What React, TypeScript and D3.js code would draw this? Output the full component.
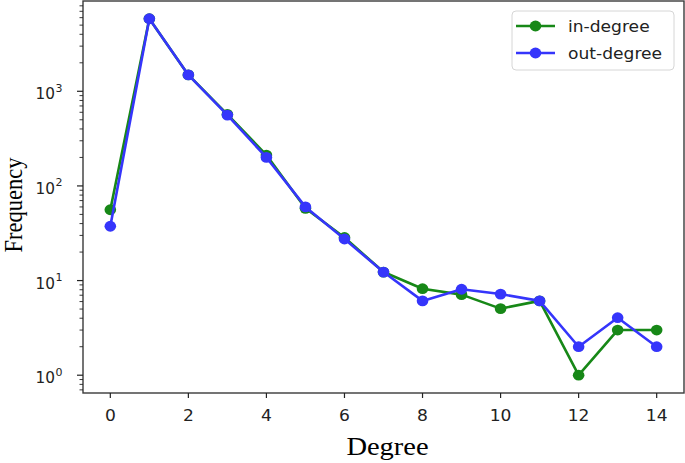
import React from "react";
import * as d3 from "d3";

const degrees = [0, 1, 2, 3, 4, 5, 6, 7, 8, 9, 10, 11, 12, 13, 14];
const inDegree = [56, 5840, 1490, 570, 212, 58, 28.5, 12.3, 8.2, 7.1, 5.05, 6.1, 1, 3, 3];
const outDegree = [37.5, 5840, 1490, 560, 200, 60, 27.5, 12.3, 6.1, 8.1, 7.2, 6.1, 2, 4.05, 2];
const xTicks = [0, 2, 4, 6, 8, 10, 12, 14];
const yDecades = [0, 1, 2, 3];
const seriesNames = ["in-degree", "out-degree"];
const seriesColors = ["#178817", "#3535fb"];

const W = 685;
const H = 463;
const L = 83, R = 684, T = 1, B = 393;
const SX = 1.14; // horizontal stretch of the original image

export default function App() {
  const x = d3.scaleLinear().domain([-0.7, 14.7]).range([L, R]);
  const y = d3.scaleLog().domain([Math.pow(10, -0.188), Math.pow(10, 3.954)]).range([B, T]);
  const line = d3
    .line<number>()
    .x((_, i) => x(degrees[i]))
    .y((d) => y(d));

  const minor: number[] = [];
  for (let k = -1; k <= 3; k++) {
    for (let m = 2; m <= 9; m++) {
      const v = m * Math.pow(10, k);
      const yy = y(v);
      if (yy >= T && yy <= B) minor.push(v);
    }
  }

  const series = [inDegree, outDegree];

  return (
    <svg
      width={W}
      height={H}
      style={{ position: "absolute", left: 0, top: 0, background: "#fff" }}
      fontFamily="DejaVu Sans"
    >
      <rect x={0} y={0} width={W} height={H} fill="#fff" />
      {/* series */}
      {series.map((s, si) => (
        <g key={si}>
          <path d={line(s) || ""} fill="none" stroke={seriesColors[si]} strokeWidth={2.6} strokeLinejoin="round" />
          {s.map((v, i) => (
            <ellipse key={i} cx={x(degrees[i])} cy={y(v)} rx={5.8} ry={5.4} fill={seriesColors[si]} />
          ))}
        </g>
      ))}
      {/* frame */}
      <rect x={L} y={T} width={R - L} height={B - T} fill="none" stroke="#3a3a3a" strokeWidth={1.4} />
      {/* x ticks */}
      {xTicks.map((t) => (
        <g key={t}>
          <line x1={x(t)} x2={x(t)} y1={B} y2={B + 5} stroke="#222" strokeWidth={1.2} />
          <text
            transform={`translate(${x(t)},${B + 28}) scale(${SX},1)`}
            textAnchor="middle"
            fontSize={15}
            fill="#222"
          >
            {t}
          </text>
        </g>
      ))}
      {/* y major ticks */}
      {yDecades.map((k) => {
        const yy = y(Math.pow(10, k));
        return (
          <g key={k}>
            <line x1={L - 6} x2={L} y1={yy} y2={yy} stroke="#222" strokeWidth={1.2} />
            <text transform={`translate(55,${yy + 8}) scale(1.02,1)`} textAnchor="end" fontSize={15} fill="#222">
              10
            </text>
            <text transform={`translate(55.5,${yy + 0.5}) scale(1.05,1)`} textAnchor="start" fontSize={10.5} fill="#222">
              {k}
            </text>
          </g>
        );
      })}
      {minor.map((v, i) => (
        <line key={i} x1={L - 3.5} x2={L} y1={y(v)} y2={y(v)} stroke="#222" strokeWidth={0.9} />
      ))}
      {/* axis labels */}
      <text
        transform={`translate(${(L + R) / 2 + 4},${B + 62}) scale(${SX},1)`}
        textAnchor="middle"
        fontFamily="Liberation Serif"
        fontSize={25}
        fill="#000"
      >
        Degree
      </text>
      <text
        transform={`translate(22,205) scale(${SX},1) rotate(-90)`}
        textAnchor="middle"
        fontFamily="Liberation Serif"
        fontSize={22.5}
        fill="#000"
      >
        Frequency
      </text>
      {/* legend */}
      <rect x={512} y={11} width={162} height={59} rx={4} fill="#fff" fillOpacity={0.85} stroke="#d6d6d6" strokeWidth={1} />
      {seriesNames.map((n, i) => {
        const ly = 26 + i * 27;
        return (
          <g key={n}>
            <line x1={516} x2={555} y1={ly} y2={ly} stroke={seriesColors[i]} strokeWidth={2.6} />
            <ellipse cx={535.5} cy={ly} rx={5.8} ry={5.4} fill={seriesColors[i]} />
            <text transform={`translate(568,${ly + 5.5}) scale(${SX},1)`} fontSize={15} fill="#222">
              {n}
            </text>
          </g>
        );
      })}
    </svg>
  );
}
